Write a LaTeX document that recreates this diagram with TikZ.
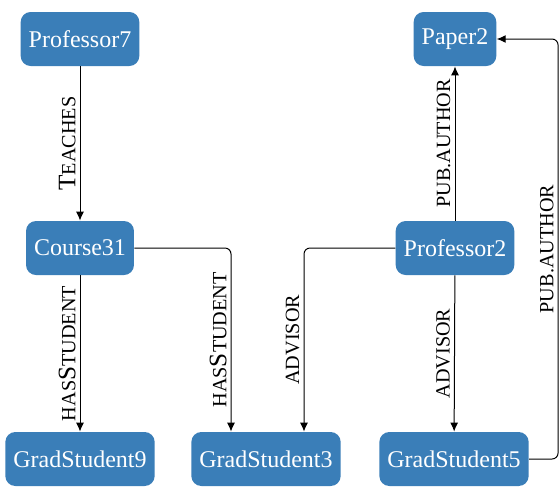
\documentclass[tikz,border=0pt]{standalone}
\usepackage{fontspec}
\setmainfont{Liberation Serif}
\usepackage{tikz}
\usetikzlibrary{arrows.meta}
\definecolor{nodeblue}{RGB}{58,126,184}
\newcommand{\fsc}[1]{{\fontsize{10.1}{12}\selectfont #1}}
\tikzset{
  entity/.style={fill=nodeblue, text=white, rounded corners=5pt, minimum height=27pt,
    inner xsep=4pt, font=\fontsize{12}{14}\selectfont},
  link/.style={-{Latex[length=4.5pt,width=4pt]}, line width=0.5pt, rounded corners=3pt},
  lbl/.style={rotate=90, anchor=south, inner sep=2pt, font=\fontsize{12.6}{14}\selectfont}
}

\begin{document}
\begin{tikzpicture}[x=0.5pt,y=-0.5pt]
			\useasboundingbox (0,0) rectangle (560,488);
			% nodes
			\node[entity] (prof7) at (80,39) {Professor7};
			\node[entity] (paper2) at (455,39) {Paper2};
			\node[entity] (course31) at (80,248) {Course31};
			\node[entity] (prof2) at (455,248) {Professor2};
			\node[entity] (grad9) at (80,459) {GradStudent9};
			\node[entity] (grad3) at (266,459) {GradStudent3};
			\node[entity] (grad5) at (454,459) {GradStudent5};
			% edges
			\draw[link] (prof7) -- node[lbl] {T\fsc{EACHES}} (course31);
			\draw[link] (course31) -- node[lbl] {\fsc{HAS}S\fsc{TUDENT}} (grad9);
			\draw[link] (course31.east) -| node[pos=0.75,lbl] {\fsc{HAS}S\fsc{TUDENT}} ([xshift=-17.5pt]grad3.north);
			\draw[link] (prof2.west) -| node[pos=0.75,lbl] {\fsc{ADVISOR}} ([xshift=19pt]grad3.north);
			\draw[link] (prof2) -- node[lbl] {\fsc{PUB.AUTHOR}} (paper2);
			\draw[link] (prof2) -- node[lbl] {\fsc{ADVISOR}} (grad5);
			\draw[link] (grad5.east) -- ++(29,0) |- node[pos=0.25,lbl] {\fsc{PUB.AUTHOR}} (paper2.east);
		\end{tikzpicture}
\end{document}
